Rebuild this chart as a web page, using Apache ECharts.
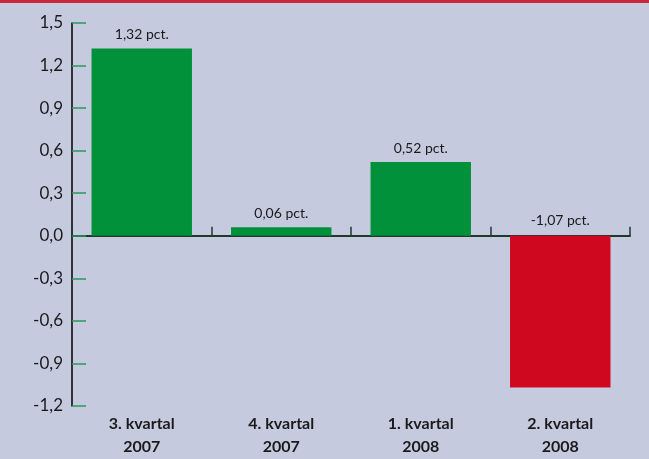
<!DOCTYPE html>
<html>
<head>
<meta charset="utf-8">
<script src="https://cdn.jsdelivr.net/npm/echarts@6/dist/echarts.min.js"></script>
<style>
  html, body { margin: 0; padding: 0; background: #c6cadf; }
  #chart { width: 649px; height: 459px; }
</style>
</head>
<body>
<div id="chart"></div>
<script>
// Quarterly change, per cent
const categories = ['3. kvartal\n2007', '4. kvartal\n2007', '1. kvartal\n2008', '2. kvartal\n2008'];
const values = [1.32, 0.06, 0.52, -1.07];
const yTicks = [-1.2, -0.9, -0.6, -0.3, 0.0, 0.3, 0.6, 0.9, 1.2, 1.5];

const GREEN = '#00913a';
const RED = '#d0081f';
const FONT = 'Lato, "Open Sans", sans-serif';

const fmtComma = (v, d) => v.toFixed(d).replace('.', ',');

const chart = echarts.init(document.getElementById('chart'), null, { renderer: 'canvas' });

chart.setOption({
  backgroundColor: '#c6cadf',
  animation: false,
  grid: { left: 72, right: 19, top: 23, bottom: 53, containLabel: false },
  graphic: [
    { type: 'rect', left: 0, top: 0, shape: { width: 649, height: 3 }, style: { fill: '#c8283a' } }
  ],
  xAxis: [
    {
      type: 'category',
      data: categories,
      position: 'bottom',
      axisLine: { show: false, onZero: false },
      axisTick: { show: false },
      axisLabel: {
        color: '#1a1a1a',
        fontFamily: FONT,
        fontWeight: 'bold',
        fontSize: 16,
        lineHeight: 23,
        margin: 6
      }
    },
    {
      type: 'category',
      data: categories,
      position: 'bottom',
      axisLine: { show: true, onZero: true, lineStyle: { color: '#1d3a2c', width: 2 } },
      axisTick: { show: true, inside: true, length: 9, lineStyle: { color: '#1d3a2c', width: 1.5 } },
      axisLabel: { show: false }
    }
  ],
  yAxis: {
    type: 'value',
    min: yTicks[0],
    max: yTicks[yTicks.length - 1],
    interval: 0.3,
    axisLine: { show: true, onZero: false, lineStyle: { color: '#000', width: 1.5 } },
    axisTick: { show: true, inside: true, length: 14, lineStyle: { color: '#2a9a55', width: 1.5 } },
    splitLine: { show: false },
    axisLabel: {
      color: '#1a1a1a',
      fontFamily: FONT,
      fontSize: 17,
      margin: 9,
      formatter: v => fmtComma(v, 1)
    }
  },
  series: [{
    type: 'bar',
    xAxisIndex: 0,
    barWidth: '72%',
    data: values.map(v => ({
      value: v,
      itemStyle: { color: v >= 0 ? GREEN : RED },
      label: v >= 0 ? { position: 'top', distance: 7 } : { position: 'insideTop', offset: [0, -27] }
    })),
    label: {
      show: true,
      color: '#1a1a1a',
      fontFamily: FONT,
      fontSize: 14,
      formatter: p => fmtComma(p.value, 2) + ' pct.'
    }
  }]
});
</script>
</body>
</html>
